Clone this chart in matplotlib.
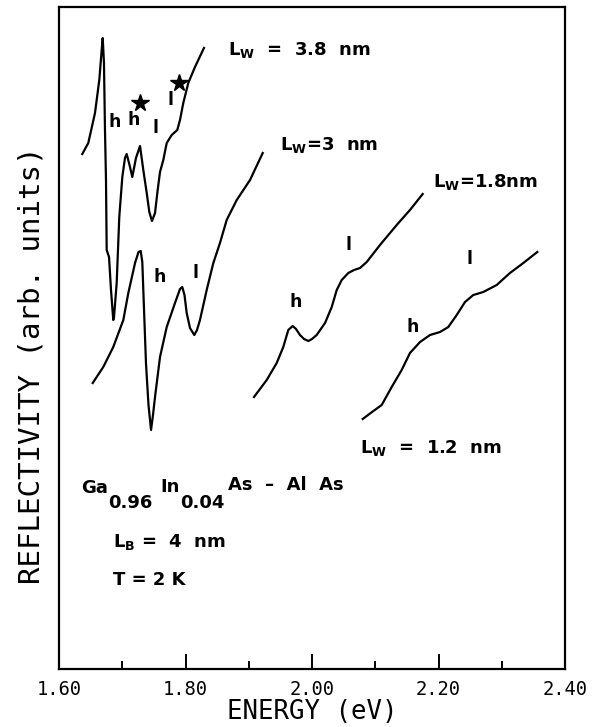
import numpy as np
import matplotlib
matplotlib.use('Agg')
from matplotlib import pyplot as plt

plt.rcParams['mathtext.fontset'] = 'dejavusans'

# Lw = 3.8 nm
e_38 = [1.6368, 1.6463, 1.6569, 1.6637, 1.6675, 1.6691, 1.6711, 1.6727, 1.6743, 1.6754,
        1.6791, 1.6822, 1.6858, 1.6870, 1.6912, 1.6953, 1.7001, 1.7043, 1.7070, 1.7115,
        1.7159, 1.7217, 1.7281, 1.7333, 1.7387, 1.7428, 1.7470, 1.7518, 1.7560, 1.7597,
        1.7649, 1.7703, 1.7782, 1.7870, 1.7913, 1.7965, 1.8044, 1.8150, 1.8292]
r_38 = [515, 526, 556, 589, 619, 631, 606, 539, 489, 419,
        412, 379, 349, 352, 386, 452, 492, 511, 515, 504,
        492, 511, 523, 499, 476, 457, 448, 456, 479, 497,
        509, 526, 534, 539, 549, 566, 586, 602, 621]

# Lw = 3 nm
e_30 = [1.6533, 1.6700, 1.6858, 1.7017, 1.7096, 1.7202, 1.7257, 1.7292, 1.7317, 1.7333,
        1.7375, 1.7415, 1.7455, 1.7486, 1.7518, 1.7597, 1.7703, 1.7834, 1.7913, 1.7949,
        1.7984, 1.8019, 1.8071, 1.8139, 1.8182, 1.8229, 1.8335, 1.8440, 1.8545, 1.8651,
        1.8810, 1.9020, 1.9221]
r_30 = [286, 302, 322, 349, 376, 406, 417, 418, 407, 379,
        306, 264, 239, 254, 272, 312, 342, 366, 380, 382,
        374, 356, 341, 334, 339, 349, 379, 406, 426, 449,
        469, 489, 516]

# Lw = 1.8 nm
e_18 = [1.9083, 1.9284, 1.9442, 1.9546, 1.9625, 1.9695, 1.9747, 1.9810, 1.9874, 1.9942,
        2.0000, 2.0074, 2.0206, 2.0312, 2.0391, 2.0470, 2.0574, 2.0664, 2.0759, 2.0865,
        2.1075, 2.1339, 2.1549, 2.1750]
r_18 = [272, 289, 306, 322, 339, 343, 340, 334, 330, 328,
        330, 334, 346, 362, 379, 389, 396, 399, 401, 407,
        424, 444, 459, 475]

# Lw = 1.2 nm
e_12 = [2.0802, 2.0949, 2.1102, 2.1260, 2.1418, 2.1549, 2.1708, 2.1866, 2.2024, 2.2155,
        2.2288, 2.2419, 2.2550, 2.2708, 2.2920, 2.3130, 2.3341, 2.3562]
r_12 = [250, 257, 264, 282, 299, 316, 327, 334, 337, 342,
        354, 367, 374, 377, 384, 396, 406, 417]

# peak labels (energy, reflectivity, text)
peak_labels = [(1.6885, 547, 'h'), (1.7175, 549, 'h'), (1.7518, 541, 'l'), (1.7755, 569, 'l'),
               (1.7597, 392, 'h'), (1.8166, 396, 'l'),
               (1.9747, 367, 'h'), (2.0574, 424, 'l'),
               (2.1592, 342, 'h'), (2.2487, 410, 'l')]
star_e = [1.7281, 1.7902]
star_r = [566, 586]

curve_labels = [(1.8672, 619, r'L$_{\mathbf{W}}$  =  3.8  nm'),
                (1.9494, 524, r'L$_{\mathbf{W}}$=3  nm'),
                (2.1913, 487, r'L$_{\mathbf{W}}$=1.8nm'),
                (2.0759, 221, r'L$_{\mathbf{W}}$  =  1.2  nm')]

fig = plt.figure(figsize=(5.93, 7.27), dpi=100)
ax = fig.add_axes([59 / 593, 58 / 727, 506 / 593, 662 / 727])

for e, r in [(e_38, r_38), (e_30, r_30), (e_18, r_18), (e_12, r_12)]:
    ax.plot(e, r, color='black', lw=1.6)

bold = dict(fontfamily='DejaVu Sans', fontweight='bold', color='black')
for e, r, s in peak_labels:
    ax.text(e, r, s, ha='center', va='center', fontsize=12.5, **bold)
ax.plot(star_e, star_r, ls='none', marker='*', ms=13, color='black')

for e, r, s in curve_labels:
    ax.text(e, r, s, ha='left', va='center', fontsize=13, **bold)

# sample description
ax.text(1.6348, 181, 'Ga', ha='left', va='center', fontsize=13, **bold)
ax.text(1.6775, 166, '0.96', ha='left', va='center', fontsize=13, **bold)
ax.text(1.7597, 182, 'In', ha='left', va='center', fontsize=13, **bold)
ax.text(1.7913, 166, '0.04', ha='left', va='center', fontsize=13, **bold)
ax.text(1.8672, 184, 'As  \u2013  Al  As', ha='left', va='center', fontsize=13, **bold)
ax.text(1.6854, 127, r'L$_{\mathbf{B}}$ =  4  nm', ha='left', va='center', fontsize=13, **bold)
ax.text(1.6854, 89, 'T = 2 K', ha='left', va='center', fontsize=13, **bold)

ax.set_xlim(1.60, 2.40)
ax.set_ylim(0, 662)
ax.set_xticks([1.60, 1.80, 2.00, 2.20, 2.40])
ax.set_xticklabels(['1.60', '1.80', '2.00', '2.20', '2.40'])
ax.set_xticks([1.70, 1.90, 2.10, 2.30], minor=True)
ax.set_yticks([])
ax.tick_params(axis='x', which='major', direction='in', length=11, width=1.4, pad=8,
               labelsize=13.5, labelfontfamily='DejaVu Sans Mono')
ax.tick_params(axis='x', which='minor', direction='in', length=6, width=1.4)
for sp in ax.spines.values():
    sp.set_linewidth(1.6)

ax.set_xlabel('ENERGY (eV)', fontfamily='DejaVu Sans Mono', fontsize=18.5)
ax.xaxis.set_label_coords(0.5, -0.046)
ax.set_ylabel('REFLECTIVITY (arb. units)', fontfamily='DejaVu Sans Mono', fontsize=21)
ax.yaxis.set_label_coords(-0.026, 0.459)

fig.savefig('out.png', dpi=100)
